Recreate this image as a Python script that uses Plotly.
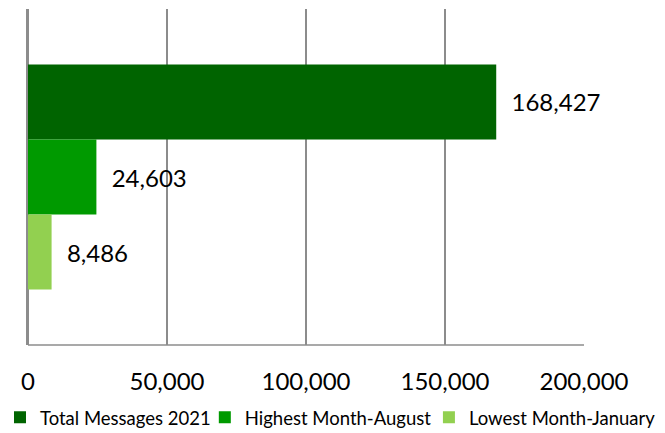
import plotly.graph_objects as go

categories = ["Messages"]
series_names = ["Total Messages 2021", "Highest Month-August", "Lowest Month-January"]
series_values = [168427, 24603, 8486]
colors = ["#006400", "#009A00", "#92D050"]
tick_vals = [0, 50000, 100000, 150000, 200000]
legend_ids = ["legend", "legend2", "legend3"]
legend_x = [0.0, 0.308, 0.645]

pad = "\u00a0\u00a0"
fig = go.Figure()
for name, val, col, lid in zip(series_names, series_values, colors, legend_ids):
    fig.add_trace(go.Bar(
        y=categories, x=[val], name=name, orientation="h",
        marker=dict(color=col, line=dict(width=0)),
        text=[pad + f"{val:,}"], textposition="outside",
        textfont=dict(size=24, color="#000000"),
        cliponaxis=False, legend=lid,
    ))

legend_common = dict(orientation="h", xref="container", yref="container",
                     xanchor="left", y=0.035, yanchor="middle",
                     font=dict(size=18.5), itemwidth=30, bgcolor="rgba(0,0,0,0)")
fig.update_layout(
    width=665, height=433,
    margin=dict(l=28, r=81, t=9, b=88, autoexpand=False),
    barmode="group", bargap=0.33, bargroupgap=0,
    plot_bgcolor="white", paper_bgcolor="white",
    font=dict(family="Lato, Carlito, sans-serif", color="#000000"),
    showlegend=True,
    legend=dict(x=legend_x[0], **legend_common),
    legend2=dict(x=legend_x[1], **legend_common),
    legend3=dict(x=legend_x[2], **legend_common),
)
fig.update_xaxes(
    range=[0, 200000], tickvals=tick_vals, tickformat=",",
    showgrid=True, gridcolor="#8c8c8c", gridwidth=1.5,
    zeroline=True, zerolinecolor="#8c8c8c", zerolinewidth=1.5,
    showline=False, tickfont=dict(size=24), ticklabelstandoff=20,
    automargin=False,
)
fig.update_yaxes(
    showticklabels=False, autorange="reversed", automargin=False,
    showline=True, linecolor="#8c8c8c", linewidth=1.5, mirror=False,
)
fig.add_shape(type="line", xref="paper", yref="paper", x0=0, x1=1, y0=0, y1=0,
              line=dict(color="#8c8c8c", width=1.5))
fig.write_html("out.html", config={"displayModeBar": False},
               post_script="document.body.style.margin='0';document.body.style.padding='0';")
